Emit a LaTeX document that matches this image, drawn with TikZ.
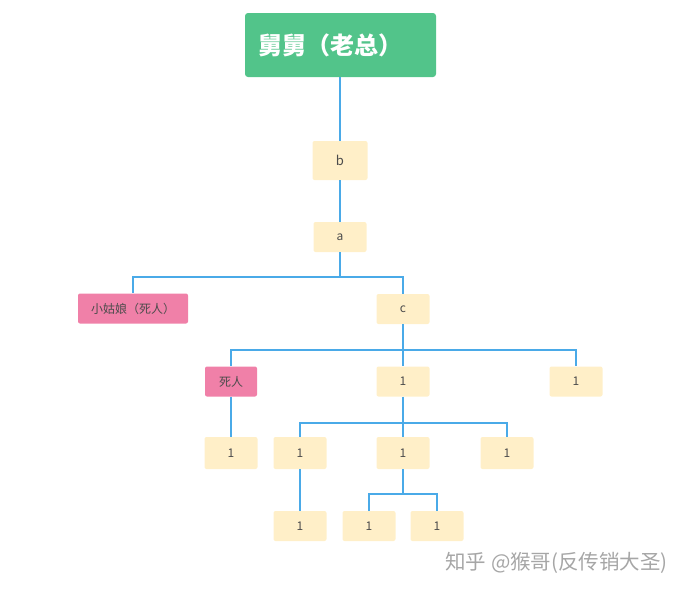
\documentclass[tikz,border=0pt]{standalone}
\usepackage{fontspec}
\setmainfont{Noto Sans CJK SC}
\begin{document}
\begin{tikzpicture}[x=1pt,y=-1pt,
  box/.style={draw=none,fill=boxy,rounded corners=2pt,minimum width=53pt,minimum height=30pt,font=\fontsize{12}{14}\selectfont,text=black!70,inner sep=0pt},
  pinkb/.style={box,fill=pinky},
  ln/.style={draw=liney,line width=1.4pt}]
\definecolor{boxy}{HTML}{FFEFC8}
\definecolor{pinky}{HTML}{F080A8}
\definecolor{liney}{HTML}{4AAAE8}
\definecolor{greeny}{HTML}{52C48A}
\useasboundingbox (0,0) rectangle (686,592);
\node[fill=greeny,rounded corners=3pt,minimum width=191pt,minimum height=64pt,text=white,font=\fontsize{24}{28}\selectfont\bfseries,inner sep=0pt,align=left,text width=165pt] (root) at (340.5,45) {舅舅（老总）};
\node[box,minimum width=55pt,minimum height=39pt,font=\fontsize{13}{15}\selectfont] (b) at (340,160.5) {b};
\node[box] (a) at (340,237) {a};
\node[pinkb,minimum width=110pt] (g) at (133,308.5) {小姑娘（死人）};
\node[box] (c) at (403,309) {c};
\node[pinkb,minimum width=52pt] (s) at (231,381.5) {死人};
\node[box] (m) at (403,381.5) {1};
\node[box] (r) at (576,381.5) {1};
\node[box,minimum height=32pt] (s1) at (231,453) {1};
\node[box,minimum height=32pt] (m1) at (300,453) {1};
\node[box,minimum height=32pt] (m2) at (403,453) {1};
\node[box,minimum height=32pt] (m3) at (507,453) {1};
\node[box] (l1) at (300,526) {1};
\node[box] (k1) at (369,526) {1};
\node[box] (k2) at (437,526) {1};
\draw[ln,line width=2pt] (root.south -| b.north) -- (b.north);
\draw[ln] (b) -- (a);
\draw[ln] (a.south) -- (340,277) -| (g.north);
\draw[ln] (340,277) -| (c.north);
\draw[ln] (c.south) -- (403,350) -| (s.north);
\draw[ln] (403,350) -- (m.north);
\draw[ln] (403,350) -| (r.north);
\draw[ln] (s) -- (s1);
\draw[ln] (m.south) -- (403,423) -| (m1.north);
\draw[ln] (403,423) -- (m2.north);
\draw[ln] (403,423) -| (m3.north);
\draw[ln] (m1) -- (l1);
\draw[ln] (m2.south) -- (403,494) -| (k1.north);
\draw[ln] (403,494) -| (k2.north);
\node[font=\fontsize{20.5}{24}\selectfont,text=black!35,anchor=east,inner sep=0pt] (wm) at (668,563) {知乎 @猴哥(反传销大圣)};
\end{tikzpicture}
\end{document}
